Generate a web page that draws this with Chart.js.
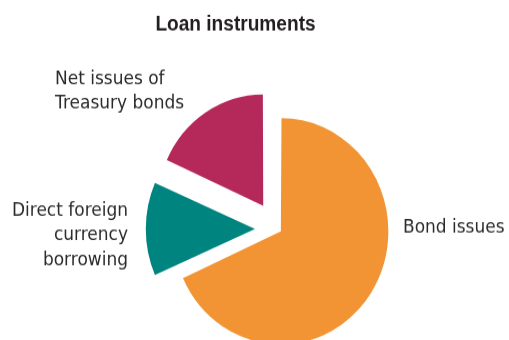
<!DOCTYPE html>
<html>
<head>
<meta charset="utf-8">
<title>Loan instruments</title>
<script src="https://cdn.jsdelivr.net/npm/chart.js@4/dist/chart.umd.min.js"></script>
<style>
  html, body { margin: 0; padding: 0; background: #ffffff; }
  #frame { width: 509px; height: 340px; overflow: hidden; }
  /* the artwork is laid out on a 509x323 stage and set slightly taller */
  #stage { width: 509px; height: 323px; transform: scaleY(1.0526); transform-origin: 0 0; }
</style>
</head>
<body>
<div id="frame"><div id="stage"><canvas id="pie"></canvas></div></div>
<script>
// Chart content
const chartTitle = 'Loan instruments';
const categories = [
  ['Bond issues'],
  ['Direct foreign', 'currency', 'borrowing'],
  ['Net issues of', 'Treasury bonds']
];
const shares = [68.3, 13.4, 18.3];   // per cent of total
const sliceColors = ['#F29433', '#00847F', '#B5295A'];
const sliceOffsets = [16, 90, 105];  // how far each slice is pulled out

// Text placement on the stage (px)
const labelPlacement = [
  { x: 403, y: 220.5, align: 'left' },
  { x: 128, y: 204.5, align: 'right' },
  { x: 55,  y: 79.5,  align: 'left' }
];

// Draws the title and the multi-line category labels beside the slices
const pieText = {
  id: 'pieText',
  afterDatasetsDraw(chart, args, opts) {
    const ctx = chart.ctx;
    ctx.save();
    ctx.textBaseline = 'alphabetic';

    // condensed bold title
    ctx.save();
    ctx.font = opts.titleFont;
    ctx.fillStyle = opts.titleColor;
    ctx.textAlign = 'center';
    ctx.translate(opts.titleX, opts.titleY);
    ctx.scale(opts.titleSqueeze, 1);
    ctx.fillText(chartTitle, 0, 0);
    ctx.restore();

    ctx.font = opts.labelFont;
    ctx.fillStyle = opts.labelColor;
    chart.data.labels.forEach((lines, i) => {
      const p = opts.placement[i];
      ctx.textAlign = p.align;
      lines.forEach((line, k) => ctx.fillText(line, p.x, p.y + k * opts.lineHeight));
    });
    ctx.restore();
  }
};

new Chart(document.getElementById('pie'), {
  type: 'pie',
  data: {
    labels: categories,
    datasets: [{
      data: shares,
      backgroundColor: sliceColors,
      offset: sliceOffsets,
      borderWidth: 0,
      clip: false
    }]
  },
  options: {
    responsive: true,
    maintainAspectRatio: false,
    animation: false,
    radius: 103.5,
    rotation: 0,
    layout: { padding: { left: 46, top: 112, right: 0, bottom: 0 } },
    events: [],
    plugins: {
      legend: { display: false },
      title: { display: false },
      tooltip: { enabled: false },
      pieText: {
        titleFont: 'bold 20px "Liberation Sans", Arial, sans-serif',
        titleColor: '#231F20',
        titleX: 235.5,
        titleY: 29.2,
        titleSqueeze: 0.955,
        labelFont: '17px "DejaVu Sans", sans-serif',
        labelColor: '#2B2B2B',
        lineHeight: 23.5,
        placement: labelPlacement
      }
    }
  },
  plugins: [pieText]
});
</script>
</body>
</html>
